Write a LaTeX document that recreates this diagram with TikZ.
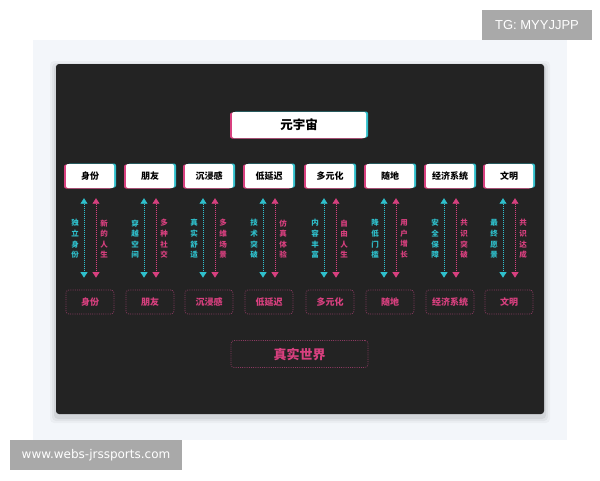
\documentclass[tikz,border=0pt]{standalone}
\usepackage{fontspec}
\setmainfont{Liberation Sans}
\newfontfamily\cjk{Noto Sans CJK SC}
\newfontfamily\dejavu{DejaVu Sans}
\usetikzlibrary{arrows.meta}
\definecolor{framebg}{HTML}{F3F6FA}
\definecolor{panel}{HTML}{232323}
\definecolor{cyanc}{HTML}{2FC0CC}
\definecolor{pinkc}{HTML}{D8407F}
\definecolor{pinkdim}{HTML}{8A3A60}
\definecolor{wmgrey}{HTML}{A9A9A9}
\tikzset{
  rowbox/.style={fill=white, rounded corners=2pt, minimum width=48pt, minimum height=24pt, inner sep=0pt, font=\cjk\bfseries\fontsize{9}{9}\selectfont, text=black},
  topbox/.style={fill=white, rounded corners=2pt, minimum width=134pt, minimum height=26pt, inner sep=0pt, font=\cjk\bfseries\fontsize{12.5}{12.5}\selectfont, text=black},
  botbox/.style={draw=pinkdim, line width=0.7pt, dash pattern=on 1pt off 1.2pt, rounded corners=3pt, minimum width=48pt, minimum height=24pt, inner sep=0pt, font=\cjk\bfseries\fontsize{9}{9}\selectfont, text=pinkc},
  worldbox/.style={draw=pinkdim, line width=0.7pt, dash pattern=on 1pt off 1.2pt, rounded corners=3pt, minimum width=137pt, minimum height=27pt, inner sep=0pt, font=\cjk\bfseries\fontsize{13}{13}\selectfont, text=pinkc},
  cyarrow/.style={cyanc, line width=0.6pt, dash pattern=on 0.8pt off 1.2pt, {Triangle[width=7pt,length=5.5pt]}-{Triangle[width=7pt,length=5.5pt]}},
  pkarrow/.style={pinkc, line width=0.6pt, dash pattern=on 0.8pt off 1.2pt, {Triangle[width=7pt,length=5.5pt]}-{Triangle[width=7pt,length=5.5pt]}},
  vlab/.style={align=center, inner sep=0pt, font=\cjk\bfseries\fontsize{7.5}{10.6}\selectfont},
  wm/.style={fill=wmgrey, text=white, inner sep=0pt}
}
\begin{document}
\begin{tikzpicture}[x=1pt,y=-1pt]
\useasboundingbox (0,0) rectangle (600,480);
\fill[white] (0,0) rectangle (600,480);
\fill[framebg] (33,40) rectangle (567,440);
% panel shadow
\foreach \s/\o in {6/0.03,4/0.04,2/0.06}{
  \fill[black, opacity=\o, rounded corners=4pt] (56-\s,64-\s+3) rectangle (544+\s,414+\s+3);
}
\fill[panel, rounded corners=3pt] (56,64) rectangle (544,414);
% top box
\fill[pinkc, rounded corners=2pt] (230,112.5) rectangle (364,138.5);
\fill[cyanc, rounded corners=2pt] (234,111.5) rectangle (368,137.5);
\node[topbox] (top) at (299,125) {元宇宙};
% columns
\foreach \i/\x/\t/\a/\b in {
  1/90/身份/独\\立\\身\\份/新\\的\\人\\生,
  2/150/朋友/穿\\越\\空\\间/多\\种\\社\\交,
  3/209/沉浸感/真\\实\\舒\\适/多\\维\\场\\景,
  4/269/低延迟/技\\术\\突\\破/仿\\真\\体\\验,
  5/330/多元化/内\\容\\丰\\富/自\\由\\人\\生,
  6/390/随地/降\\低\\门\\槛/用\\户\\增\\长,
  7/450/经济系统/安\\全\\保\\障/共\\识\\突\\破,
  8/509/文明/最\\终\\愿\\景/共\\识\\达\\成}{
  \fill[pinkc, rounded corners=2pt] (\x-26,164.5) rectangle (\x+22,188.5);
  \fill[cyanc, rounded corners=2pt] (\x-22,163.5) rectangle (\x+26,187.5);
  \node[rowbox] (t\i) at (\x,176) {\t};
  \node[botbox] (b\i) at (\x,302) {\t};
  \draw[cyarrow] ([xshift=-6pt,yshift=-10pt]t\i.south) -- ([xshift=-6pt,yshift=12pt]b\i.north);
  \draw[pkarrow] ([xshift=6pt,yshift=-10pt]t\i.south) -- ([xshift=6pt,yshift=12pt]b\i.north);
  \node[vlab, text=cyanc] (lc\i) at (\x-15,239) {\a};
  \node[vlab, text=pinkc] (lp\i) at (\x+14,239) {\b};
}
\node[worldbox] (world) at (299.5,354) {真实世界};
% watermarks
\fill[wmgrey] (482,10) rectangle (592,40);
\node[text=white, font=\fontsize{13}{13}\selectfont] (tg) at (537,25) {TG: MYYJJPP};
\fill[wmgrey] (10,440) rectangle (182,470);
\node[text=white, font=\dejavu\fontsize{12}{12}\selectfont] (web) at (96,455) {www.webs-jrssports.com};
\end{tikzpicture}
\end{document}
